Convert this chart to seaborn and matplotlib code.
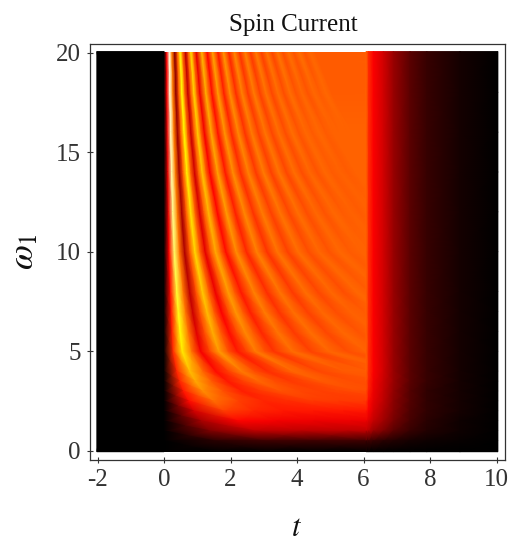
import numpy as np
import matplotlib
matplotlib.use("Agg")
import matplotlib.pyplot as plt
from matplotlib.colors import LinearSegmentedColormap
from matplotlib.patches import Rectangle
import seaborn as sns

# omega_1 of each row, top to bottom
omega = [20.05, 18, 16, 14, 12, 10, 8, 7, 6, 5, 4, 3.5, 3, 2.5, 2, 1.5, 1, 0.5, -0.05]
# fringe period in t
period = [0.325, 0.36, 0.405, 0.46, 0.535, 0.62, 0.77, 0.86, 0.97, 1.1, 1.55, 1.9, 2.35, 3.0, 3.6, 4.5, 5.5, 6.0, 6.0]
# samples along a row, in fringe periods (last one just runs past the pulse end)
phase = [0, 0.25, 0.5, 0.75, 1, 1.25, 1.5, 1.75, 2, 2.25, 2.5, 2.75, 3,
         3.5, 4, 4.5, 5, 5.5, 6, 6.5, 7, 7.5, 8, 8.5, 9, 9.5, 10, 10.5, 11, 11.5, 12, 12.5, 13, 13.5, 14,
         40]

# current during the pulse, percent of full colour scale
w20 = [0,35,97,55,20,50,76,51,27,50,69,51,33, 64,37,61,40,59,42,57,44,56,45,55,46,54,47,54,48,53,49,53,49,52,50,51, 51][:36]
w18 = [0,34,96,55,21,50,75,51,28,50,68,51,34, 63,38,60,41,58,43,56,45,55,46,54,47,53,48,53,49,52,49,52,50,52,50, 51]
w16 = [0,33,94,55,22,50,74,51,29,50,67,51,35, 62,39,59,42,57,44,55,46,54,47,53,48,53,49,52,50,52,50,51,51,51,51, 51]
w14 = [0,32,92,55,23,50,73,51,30,50,66,51,36, 61,40,58,43,56,45,55,46,54,47,53,48,52,49,52,50,51,50,51,51,51,51, 51]
w12 = [0,33,89,55,24,50,71,51,31,50,64,51,37, 60,41,57,44,55,46,54,47,53,48,52,49,52,50,51,50,51,51,51,51,51,51, 51]
w10 = [0,36,85,54,25,49,69,51,33,49,62,51,38, 58,42,56,44,54,46,53,48,52,49,52,50,51,51,51,51,51,51,51,51,51,51, 51]
w8 = [0,38,80,54,27,48,67,51,34,48,60,50,40, 56,43,54,45,53,47,52,48,52,50,51,50,51,51,51,51,51,51,51,51,51,51, 51]
w7 = [0,39,77,54,29,48,65,50,36,48,59,50,41, 55,44,53,46,52,48,51,50,51,51,51,51,51,51,51,51,51,51,51,51,51,51, 51]
w6 = [0,41,75,54,32,48,63,50,38,48,57,50,42, 54,45,53,47,52,49,51,50,51,51,51,51,51,51,51,51,51,51,51,51,51,51, 51]
w5 = [0,43,72,54,35,47,60,49,40,46,55,49,44, 53,46,52,48,51,50,51,51,51,51,51,51,51,51,51,51,51,51,51,51,51,51, 51]
w4 = [0,42,65,52,38,46,55,48,43,47,52,50,47, 50,50,50,50,50,50,50,50,50,50,50,50,50,50,50,50,50,50,50,50,50,50, 50]
w3_5 = [0,42,62,50,40,46,52,48,45,47,50,49,48, 49,49,49,49,49,49,49,49,49,49,49,49,49,49,49,49,49,49,49,49,49,49, 49]
w3 = [0,40,58,49,41,45,49,47,46,47,48,48,48, 48,48,48,48,48,48,48,48,48,48,48,48,48,48,48,48,48,48,48,48,48,48, 48]
w2_5 = [0,38,53,46,42,43,45,45,45,45,45,45,45, 45,45,45,45,45,45,45,45,45,45,45,45,45,45,45,45,45,45,45,45,45,45, 45]
w2 = [0,30,46,42,40,40,40,40,40,40,40,40,40, 40,40,40,40,40,40,40,40,40,40,40,40,40,40,40,40,40,40,40,40,40,40, 40]
w1_5 = [0,24,37,35,34,34,34,34,34,34,34,34,34, 34,34,34,34,34,34,34,34,34,34,34,34,34,34,34,34,34,34,34,34,34,34, 34]
w1 = [0,18,27,27,27,27,27,27,27,27,27,27,27, 27,27,27,27,27,27,27,27,27,27,27,27,27,27,27,27,27,27,27,27,27,27, 27]
w0_5 = [0,6,9,9,9,9,9,9,9,9,9,9,9, 9,9,9,9,9,9,9,9,9,9,9,9,9,9,9,9,9,9,9,9,9,9, 9]
w0 = [0] * 36

# decay after the pulse ends
tail_t = [6.08, 6.15, 6.3, 6.6, 6.9, 7.4, 7.9, 8.9, 10.04]
tail_hi = [51, 43, 36, 30, 22, 13, 8, 3, 0]
tail_3_5 = [49, 42, 35, 29, 22, 13, 8, 3, 0]
tail_3 = [48, 41, 34, 28, 21, 12, 7, 3, 0]
tail_2_5 = [45, 38, 33, 27, 20, 12, 7, 3, 0]
tail_2 = [40, 36, 31, 25, 19, 11, 7, 3, 0]
tail_1_5 = [34, 32, 28, 23, 17, 10, 6, 2, 0]
tail_1 = [27, 26, 22, 18, 13, 8, 5, 2, 0]
tail_0_5 = [9, 9, 8, 6, 5, 3, 2, 1, 0]
tail_0 = [0, 0, 0, 0, 0, 0, 0, 0, 0]

x_ticks = [-2, 0, 2, 4, 6, 8, 10]
x_labels = ["-2", "0", "2", "4", "6", "8", "10"]
y_ticks = [0, 5, 10, 15, 20]

sns.set_theme(style="ticks")
plt.rcParams.update({
    "font.family": ["Liberation Serif", "DejaVu Serif"],
    "mathtext.fontset": "stix",
    "axes.edgecolor": "#333333",
    "xtick.color": "#333333",
    "ytick.color": "#333333",
    "text.color": "#111111",
})

hot = LinearSegmentedColormap.from_list(
    "hot_black", [(0, "#000000"), (0.365, "#ff0000"), (0.746, "#ffff00"), (1, "#ffffff")], N=512)

pulse = np.array([w20, w18, w16, w14, w12, w10, w8, w7, w6, w5, w4, w3_5, w3,
                  w2_5, w2, w1_5, w1, w0_5, w0]) / 100
tail = np.array([tail_hi] * 11 + [tail_3_5, tail_3, tail_2_5, tail_2,
                                  tail_1_5, tail_1, tail_0_5, tail_0]) / 100

fig = plt.figure(figsize=(5.10, 5.42), dpi=100)
ax = fig.add_axes([89.7 / 510, 1 - 459.7 / 542, (505.5 - 89.7) / 510, (459.7 - 44) / 542])

row_y = np.array(omega)
# black lead-in before t = 0
ax.pcolormesh([-2.02, 0], [row_y[-1], row_y[0]], np.zeros((2, 2)), shading="gouraud",
              cmap=hot, vmin=0, vmax=1)
# mesh follows the fringes, so the bands stay sharp between rows
grid_t = np.outer(period, phase)
grid_y = np.repeat(row_y[:, None], len(phase), axis=1)
mesh = ax.pcolormesh(grid_t, grid_y, pulse, shading="gouraud", cmap=hot, vmin=0, vmax=1)
mesh.set_clip_path(Rectangle((0, row_y[-1]), tail_t[0], row_y[0] - row_y[-1], transform=ax.transData))
ax.pcolormesh(tail_t, row_y, tail, shading="gouraud", cmap=hot, vmin=0, vmax=1)

ax.set_xlim(-2.235, 10.27)
ax.set_ylim(-0.452, 20.43)
ax.set_xticks(x_ticks)
ax.set_xticklabels(x_labels)
ax.set_yticks(y_ticks)
ax.tick_params(axis="both", direction="inout", length=5, width=0.8, labelsize=18, pad=4)
for side in ax.spines.values():
    side.set_linewidth(0.9)
sns.despine(ax=ax, top=False, right=False)

fig.text(293 / 510, 1 - 25 / 542, "Spin Current", ha="center", va="center", fontsize=18)
fig.text(297 / 510, 1 - 528 / 542, r"$t$", ha="center", va="center", fontsize=22)
fig.text(25 / 510, 1 - 252 / 542, r"$\omega_1$", ha="center", va="center", rotation=90, fontsize=26)

fig.savefig("out.png", dpi=100)
